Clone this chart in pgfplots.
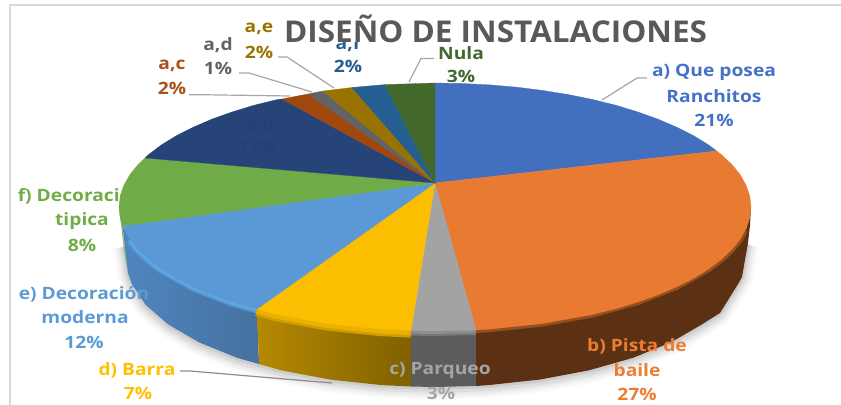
\documentclass[border=0pt]{standalone}
\usepackage{fontspec}
\usepackage{pgfplots}
\usepackage{pgfplotstable}
\pgfplotsset{compat=1.18}
\setmainfont{Open Sans}
\definecolor{cA}{HTML}{4270BF}
\definecolor{cB}{HTML}{E97A31}
\definecolor{cC}{HTML}{A3A3A3}
\definecolor{cD}{HTML}{FCBE00}
\definecolor{cE}{HTML}{5A99D5}
\definecolor{cF}{HTML}{6FAC47}
\definecolor{cG}{HTML}{264478}
\definecolor{cH}{HTML}{9E480E}
\definecolor{cI}{HTML}{636363}
\definecolor{cJ}{HTML}{997300}
\definecolor{cK}{HTML}{255E91}
\definecolor{cL}{HTML}{43682B}
\definecolor{tA}{HTML}{4472C4}
\definecolor{tB}{HTML}{ED7D31}
\definecolor{tC}{HTML}{A5A5A5}
\definecolor{tD}{HTML}{FFC000}
\definecolor{tE}{HTML}{5B9BD5}
\definecolor{tF}{HTML}{70AD47}
\definecolor{tG}{HTML}{244174}
\definecolor{tH}{HTML}{A8521A}
\definecolor{lead}{HTML}{A6A6A6}
\definecolor{sE1}{HTML}{4F86BF}
\definecolor{sE2}{HTML}{46719F}
\definecolor{sD1}{HTML}{B58900}
\definecolor{sD2}{HTML}{806100}
\definecolor{sC}{HTML}{5C5C5C}
\definecolor{sB}{HTML}{5C3013}
\definecolor{hiE}{HTML}{5FA8E6}
\newcommand{\lab}[1]{\scalebox{1.13}[1]{\fontsize{17bp}{20bp}\selectfont\bfseries #1}}
\pgfplotstableread{
x y
124 245
128 273
131.7 283.7
145.6 304.8
168.3 324.5
199.1 342.4
237 357.8
281 370.3
329.7 379.5
381.5 385.1
435 387
488.5 385.1
540.3 379.5
589 370.3
633 357.8
670.9 342.4
701.7 324.5
720 313
738.3 283.7
742 277
748 243
}\lowerrim
\pgfplotstableread{
x y
130 240
138 249.4
148.7 259.5
161.3 269
193 286.7
232 302
257 309
}\rimE
\pgfplotstableread{
x y
257 309
277 314.4
327 323.5
380 329.1
411 330.6
}\rimD
\pgfplotstableread{
x y
411 330.6
435 331
476 330
}\rimC
\pgfplotstableread{
x y
476 330
490 329.1
543 323.5
593 314.4
638 302
677 286.7
708.7 269
721.3 259.5
732 249.4
740.3 239.1
745 230
}\rimB
\begin{document}
\begin{tikzpicture}
\useasboundingbox (0,0) rectangle (841bp,405bp);
\begin{axis}[
  anchor=south west, at={(0,0)},
  scale only axis, width=841bp, height=405bp,
  xmin=0, xmax=841, ymin=0, ymax=405, y dir=reverse,
  hide axis, clip=false,
  every node/.append style={text height=13bp, text depth=4bp, yshift=-1.5bp},
]
% frame
\addplot[color=black!15, line width=2bp] coordinates {(10,405)(10,5)(841,5)};
% soft shadow
\addplot[draw=black, draw opacity=.02, line width=22bp, line join=round, yshift=-2bp] table {\lowerrim};
\addplot[draw=black, draw opacity=.03, line width=17bp, line join=round, yshift=-2bp] table {\lowerrim};
\addplot[draw=black, draw opacity=.04, line width=12bp, line join=round, yshift=-2bp] table {\lowerrim};
\addplot[draw=black, draw opacity=.05, line width=8bp, line join=round, yshift=-2bp] table {\lowerrim};
\addplot[draw=black, draw opacity=.07, line width=4bp, line join=round, yshift=-1bp] table {\lowerrim};
% side walls
\addplot[fill=tF!85!white, draw=none] coordinates {(119,207)(122.5,226)(128,273)(124,250)} -- cycle;
\addplot[left color=sE1, right color=sE2, draw=none] coordinates {(122.5,226)(123.8,228.5)(138,249.4)(161.3,269)(193,286.7)(232,302)(257,309)(259,364)(237,357.8)(199.1,342.4)(168.3,324.5)(145.6,304.8)(131.7,283.7)(128,273)} -- cycle;
\addplot[left color=sD1, right color=sD2, draw=none] coordinates {(257,309)(277,314.4)(327,323.5)(380,329.1)(411,330.6)(411,386.5)(381.5,385.1)(329.7,379.5)(281,370.3)(259,364)} -- cycle;
\addplot[fill=sC, draw=none] coordinates {(411,330.6)(435,331)(476,330)(476,386)(435,387)(411,386.5)} -- cycle;
\addplot[fill=sB, draw=none] coordinates {(476,330)(490,329.1)(543,323.5)(593,314.4)(638,302)(677,286.7)(708.7,269)(732,249.4)(746.2,228.5)(751,207)(750,225)(748,243)(742,277)(738.3,283.7)(720,313)(701.7,324.5)(670.9,342.4)(633,357.8)(589,370.3)(540.3,379.5)(488.5,385.1)(476,386)} -- cycle;
% bevel along the rim
\addplot[color=cE!80!sE1, line width=9bp, line join=round] table {\rimE};
\addplot[color=hiE, line width=5bp, line join=round] table {\rimE};
\addplot[color=sD1!60!cD, line width=14bp, line join=round] table {\rimD};
\addplot[color=sD1!25!cD, line width=9bp, line join=round] table {\rimD};
\addplot[color=sC!60!cC, line width=10bp] table {\rimC};
\addplot[color=sC!30!cC, line width=6bp] table {\rimC};
\addplot[color=sB!60!cB, line width=6bp, line join=round] table {\rimB};
% top face
\addplot[fill=cA, draw=cA, line width=.3bp] coordinates {(435,183)(435,83)(462.5,83.5)(490,84.9)(516.8,87.2)(543,90.5)(568.6,94.6)(593,99.6)(616.4,105.4)(638,112)(658.4,119.3)(677,127.3)(693.8,135.8)(708.7,145)(716.6,151)} -- cycle;
\addplot[fill=cB, draw=cB, line width=.3bp] coordinates {(435,183)(716.6,151)(721.3,154.5)(732,164.6)(740.3,174.9)(746.2,185.5)(749.8,196.2)(751,207)(749.8,217.8)(746.2,228.5)(740.3,239.1)(732,249.4)(721.3,259.5)(708.7,269)(693.8,278.2)(677,286.7)(658.4,294.7)(638,302)(616.4,308.6)(593,314.4)(543,323.5)(490,329.1)(476,330)} -- cycle;
\addplot[fill=cC, draw=cC, line width=.3bp] coordinates {(435,183)(476,330)(435,331)(411,330.6)} -- cycle;
\addplot[fill=cD, draw=cD, line width=.3bp] coordinates {(435,183)(411,330.6)(380,329.1)(327,323.5)(277,314.4)(257,309)} -- cycle;
\addplot[fill=cE, draw=cE, line width=.3bp] coordinates {(435,183)(257,309)(232,302)(211.6,294.7)(193,286.7)(176.2,278.2)(161.3,269)(148.7,259.5)(138,249.4)(129.7,239.1)(123.8,228.5)(122.5,226)} -- cycle;
\addplot[fill=cF, draw=cF, line width=.3bp] coordinates {(435,183)(122.5,226)(120.2,217.8)(119,207)(120.2,196.2)(123.8,185.5)(129.7,174.9)(138,164.6)(145,158)} -- cycle;
\addplot[fill=cG, draw=cG, line width=.3bp] coordinates {(435,183)(145,158)(148.7,154.5)(161.3,145)(176.2,135.8)(193,127.3)(211.6,119.3)(232,112)(253.6,105.4)(277,99.6)(282,99)} -- cycle;
\addplot[fill=cH, draw=cH, line width=.3bp] coordinates {(435,183)(282,99)(308,94)} -- cycle;
\addplot[fill=cI, draw=cI, line width=.3bp] coordinates {(435,183)(308,94)(323,91)} -- cycle;
\addplot[fill=cJ, draw=cJ, line width=.3bp] coordinates {(435,183)(323,91)(352,87.5)} -- cycle;
\addplot[fill=cK, draw=cK, line width=.3bp] coordinates {(435,183)(352,87.5)(385,84.6)} -- cycle;
\addplot[fill=cL, draw=cL, line width=.3bp] coordinates {(435,183)(385,84.6)(435,83)} -- cycle;
% leaders
\addplot[color=lead, line width=1.2bp] coordinates {(602,100)(637,78)(647,78)};
\addplot[color=lead, line width=1.2bp] coordinates {(409,82)(421,58.5)(434,58.5)};
\addplot[color=lead, line width=1.2bp] coordinates {(334,88)(287,57)(278,57)};
\addplot[color=lead, line width=1.2bp] coordinates {(312,92)(249,73)(239,73)};
\addplot[color=lead, line width=1.2bp] coordinates {(290,96)(200,94.7)(189,94.7)};
\addplot[color=black!45, line width=1.2bp] coordinates {(332,383)(190,371)(180,371)};
% labels
\node[text=cK] at (axis cs:348,44) {\lab{a,f}};
\node[text=cK] at (axis cs:348,66) {\lab{2\%}};
\node[anchor=base, fill=white, inner sep=0pt, text height=24bp, text depth=0pt, text=black!65] at (axis cs:495.5,42) {\scalebox{1.05}[1]{\fontsize{30bp}{32bp}\selectfont\bfseries DISEÑO DE INSTALACIONES}};
\node[text=tA] at (axis cs:714,72) {\lab{a) Que posea}};
\node[text=tA] at (axis cs:714,96) {\lab{Ranchitos}};
\node[text=tA] at (axis cs:714,120) {\lab{21\%}};
\node[text=cL] at (axis cs:461,53) {\lab{Nula}};
\node[text=cL] at (axis cs:461,76) {\lab{3\%}};
\node[text=cJ] at (axis cs:259,29) {\lab{a,e}};
\node[text=cJ] at (axis cs:259,52) {\lab{2\%}};
\node[text=cI] at (axis cs:218,45) {\lab{a,d}};
\node[text=cI] at (axis cs:218,68) {\lab{1\%}};
\node[text=tH] at (axis cs:172,66) {\lab{a,c}};
\node[text=tH] at (axis cs:172,88) {\lab{2\%}};
\node[text=tG] at (axis cs:260,126) {\lab{a,b}};
\node[text=tG] at (axis cs:258,147) {\lab{12\%}};
\node[text=tF] at (axis cs:81,196) {\lab{f) Decoración}};
\node[text=tF] at (axis cs:82,221) {\lab{tipica}};
\node[text=tF] at (axis cs:82,245) {\lab{8\%}};
\node[text=tE] at (axis cs:84,294) {\lab{e) Decoración}};
\node[text=tE] at (axis cs:85,317) {\lab{moderna}};
\node[text=tE] at (axis cs:84,342) {\lab{12\%}};
\node[text=tD] at (axis cs:137,370) {\lab{d) Barra}};
\node[text=tD] at (axis cs:138,393) {\lab{7\%}};
\node[text=tC] at (axis cs:440,370) {\lab{c) Parqueo}};
\node[text=tC] at (axis cs:441,393) {\lab{3\%}};
\node[text=tB] at (axis cs:637,346) {\lab{b) Pista de}};
\node[text=tB] at (axis cs:637,370) {\lab{baile}};
\node[text=tB] at (axis cs:637,394) {\lab{27\%}};
\end{axis}
\end{tikzpicture}
\end{document}
